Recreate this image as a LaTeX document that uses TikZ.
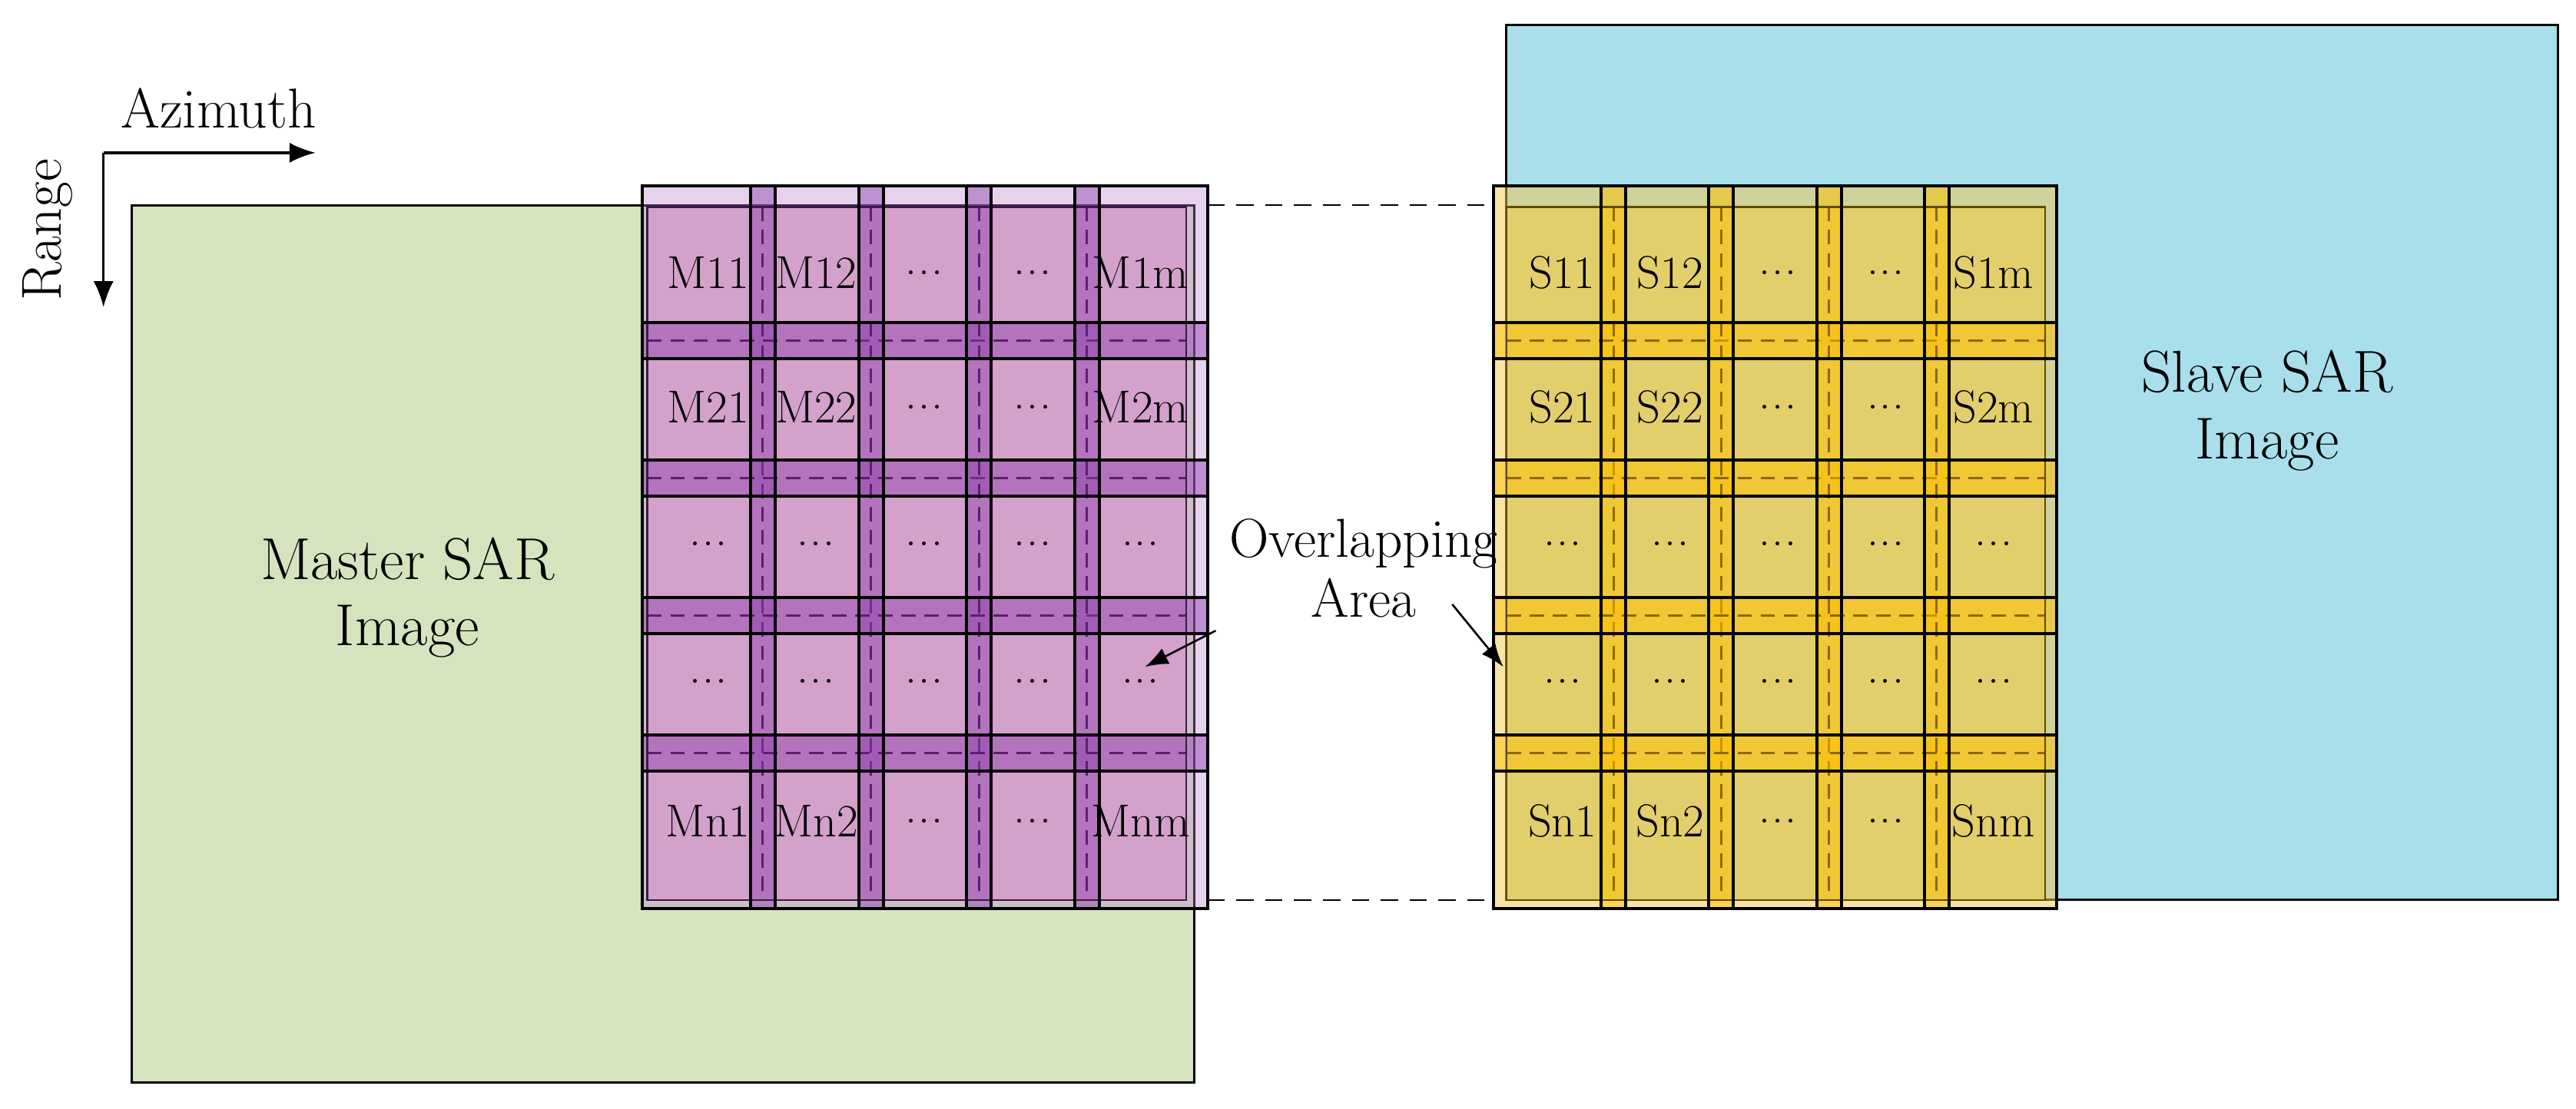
\documentclass[tikz,border=0pt]{standalone}
\usetikzlibrary{arrows.meta}
\definecolor{green1}{HTML}{D5E3BF}
\definecolor{blue1}{HTML}{A8DFEA}
\definecolor{mpur}{HTML}{B97FCF}
\definecolor{mpink}{HTML}{D4A1CB}
\definecolor{mstrip}{HTML}{8E3FAE}
\definecolor{mdash}{HTML}{5A2070}
\definecolor{syel}{HTML}{F2C94C}
\definecolor{sin}{HTML}{E2CF6C}
\definecolor{sstrip}{HTML}{FFC000}
\definecolor{sdash}{HTML}{8A6A00}
\newcommand{\dd}{.\kern0.5pt.\kern0.5pt.}
\begin{document}
\begin{tikzpicture}[x=0.02cm,y=-0.02cm,
  line width=0.8pt,
  cell/.style={font=\fontsize{16}{18}\selectfont, inner sep=0pt},
  big/.style={font=\fontsize{20.5}{23}\selectfont, align=center},
  ovs/.style={font=\fontsize{19}{21}\selectfont, align=center},
  axis/.style={font=\fontsize{19.5}{22}\selectfont},
  arr/.style={-{Latex[length=9pt,width=7pt]}, line width=0.9pt},
  tile/.style={draw=black, line width=1.05pt}]
\useasboundingbox (0,0) rectangle (1568,675);
% base images
\filldraw[fill=green1, draw=black] (80,125) rectangle (727,659);
\filldraw[fill=blue1, draw=black] (917,15) rectangle (1557,548);
% axes
\coordinate (o) at (63,93);
\coordinate (az) at (192,93);
\coordinate (rg) at (63,187);
\draw[arr] (o) -- (az);
\draw[arr] (o) -- (rg);
\node[axis] (azl) at (133,66) {Azimuth};
\node[axis, rotate=90] (rgl) at (29,140) {Range};
\node[big] (mlab) at (248,364) {Master SAR\\Image};
\node[big] (slab) at (1380,250) {Slave SAR\\Image};
% ---------- master grid ----------
\fill[mpur, opacity=0.35] (391,113) rectangle (735,553);
\fill[mpink] (394,126) rectangle (722,548);
\foreach \i in {1,2,3,4}{
  \pgfmathsetmacro\ya{113+83.6*\i}
  \pgfmathsetmacro\xa{391+65.8*\i}
  \fill[mstrip, opacity=0.45] (391,\ya) rectangle (735,\ya+22);
  \fill[mstrip, opacity=0.45] (\xa,113) rectangle (\xa+15,553);
  \draw[mdash, line width=0.8pt, dash pattern=on 5pt off 3pt] (394,\ya+11) -- (722,\ya+11);
  \draw[mdash, line width=0.8pt, dash pattern=on 5pt off 3pt] (\xa+7.5,126) -- (\xa+7.5,548);
}
\draw[mdash!70!black, line width=0.6pt] (394,126) rectangle (722,548);
\foreach \i in {0,1,2,3,4}{
  \foreach \j in {0,1,2,3,4}{
    \pgfmathsetmacro\xa{391+65.8*\j}
    \pgfmathsetmacro\ya{113+83.6*\i}
    \draw[tile] (\xa,\ya) rectangle (\xa+80.8,\ya+105.6);
  }
}
\foreach \t [count=\j from 0] in {M11,M12,\dd,\dd,M1m}{
  \node[cell] (m1\j) at (431+65.8*\j,166) {\t};}
\foreach \t [count=\j from 0] in {M21,M22,\dd,\dd,M2m}{
  \node[cell] (m2\j) at (431+65.8*\j,248) {\t};}
\foreach \j in {0,1,2,3,4}{
  \node[cell] (m3\j) at (431+65.8*\j,331) {\dd};
  \node[cell] (m4\j) at (431+65.8*\j,415) {\dd};}
\foreach \t [count=\j from 0] in {Mn1,Mn2,\dd,\dd,Mnm}{
  \node[cell] (m5\j) at (431+65.8*\j,500) {\t};}
% ---------- slave grid ----------
\fill[syel, opacity=0.5] (909,113) rectangle (1252,553);
\fill[sin] (917,126) rectangle (1245,548);
\foreach \i in {1,2,3,4}{
  \pgfmathsetmacro\ya{113+83.6*\i}
  \pgfmathsetmacro\xa{909+65.6*\i}
  \fill[sstrip, opacity=0.5] (909,\ya) rectangle (1252,\ya+22);
  \fill[sstrip, opacity=0.5] (\xa,113) rectangle (\xa+15,553);
  \draw[sdash, line width=0.8pt, dash pattern=on 5pt off 3pt] (917,\ya+11) -- (1245,\ya+11);
  \draw[sdash, line width=0.8pt, dash pattern=on 5pt off 3pt] (\xa+7.5,126) -- (\xa+7.5,548);
}
\draw[sdash!70!black, line width=0.6pt] (917,126) rectangle (1245,548);
\foreach \i in {0,1,2,3,4}{
  \foreach \j in {0,1,2,3,4}{
    \pgfmathsetmacro\xa{909+65.6*\j}
    \pgfmathsetmacro\ya{113+83.6*\i}
    \draw[tile] (\xa,\ya) rectangle (\xa+80.6,\ya+105.6);
  }
}
\foreach \t [count=\j from 0] in {S11,S12,\dd,\dd,S1m}{
  \node[cell] (s1\j) at (951+65.6*\j,166) {\t};}
\foreach \t [count=\j from 0] in {S21,S22,\dd,\dd,S2m}{
  \node[cell] (s2\j) at (951+65.6*\j,248) {\t};}
\foreach \j in {0,1,2,3,4}{
  \node[cell] (s3\j) at (951+65.6*\j,331) {\dd};
  \node[cell] (s4\j) at (951+65.6*\j,415) {\dd};}
\foreach \t [count=\j from 0] in {Sn1,Sn2,\dd,\dd,Snm}{
  \node[cell] (s5\j) at (951+65.6*\j,500) {\t};}
% ---------- connecting dashed lines ----------
\coordinate (mt) at (735,125); \coordinate (st) at (909,125);
\coordinate (mb) at (735,548); \coordinate (sb) at (909,548);
\draw[dash pattern=on 6pt off 4pt, line width=0.6pt] (mt) -- (st);
\draw[dash pattern=on 6pt off 4pt, line width=0.6pt] (mb) -- (sb);
% overlapping area label
\node[ovs] (ov) at (830,346) {Overlapping\\Area};
\coordinate (ma) at (697,406);
\coordinate (sa) at (915,406);
\draw[-{Latex[length=8pt,width=6pt]}, line width=0.7pt] (740,384) -- (ma);
\draw[-{Latex[length=8pt,width=6pt]}, line width=0.7pt] (884,368) -- (sa);
\end{tikzpicture}
\end{document}
